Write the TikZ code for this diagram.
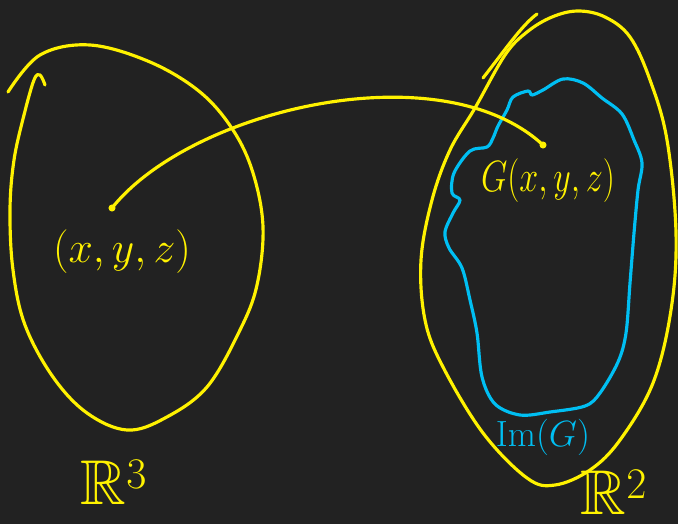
\documentclass[tikz,border=0pt]{standalone}
\usepackage{amssymb}
\definecolor{bg}{HTML}{222222}
\definecolor{hy}{HTML}{FFF200}
\definecolor{hb}{HTML}{00BFF3}
\tikzset{
  ink/.style={line width=1.8pt, line cap=round, line join=round},
  yel/.style={ink, draw=hy},
  blu/.style={ink, draw=hb},
  lbl/.style={text=hy, inner sep=0pt},
  dotmark/.style={fill=hy, circle, inner sep=0pt, minimum size=4pt}
}
\begin{document}
\begin{tikzpicture}[x=0.02cm,y=-0.02cm]
\fill[bg] (0,0) rectangle (678,524);
\useasboundingbox (0,0) rectangle (678,524);

% left set R^3
\draw[yel] plot[smooth, tension=0.6] coordinates {(45,85) (40,75) (34,80) (24,115) (14,160) (10,210) (13,270) (25,325) (53,377) (87,413) (127,430) (165,418) (207,387) (240,330) (257,285) (263,227) (253,173) (233,130) (200,92) (150,62) (90,45) (40,55) (8,92)};

% right set R^2
\draw[yel] plot[smooth cycle, tension=0.6] coordinates {(475,108) (450,150) (432,200) (421,260) (425,320) (443,367) (483,433) (527,478) (555,485) (590,470) (620,440) (653,383) (671,310) (676,233) (667,140) (650,80) (630,37) (605,17) (578,11) (552,17) (527,32) (505,55)};
\draw[yel] (483,78) .. controls (505,50) and (522,25) .. (537,14);

% image of G
\draw[blu] plot[smooth cycle, tension=0.55] coordinates {(513,97) (528,91) (532,95) (543,90) (563,79) (583,83) (602,98) (622,114) (634,140) (642,163) (638,190) (634,233) (630,283) (626,333) (618,362) (600,393) (585,406) (550,412) (520,415) (495,404) (482,377) (477,333) (470,300) (462,268) (449,248) (445,232) (453,213) (460,200) (452,193) (454,173) (470,151) (487,147) (493,138) (498,126) (507,110)};

% labels
\node[lbl] (p) at (122,252) {\fontsize{25}{28}\selectfont$(x,y,z)$};
\node[lbl] (g) at (548,181) {\scalebox{0.78}[1]{\fontsize{27}{30}\selectfont$G(x,y,z)$}};
\node[lbl, text=hb] (im) at (543,437) {\fontsize{20}{22}\selectfont$\mathrm{Im}(G)$};
\node[lbl] (r3) at (114,482) {\fontsize{36}{40}\selectfont$\mathbb{R}^3$};
\node[lbl] (r2) at (614,492) {\fontsize{36}{40}\selectfont$\mathbb{R}^2$};

% mapping arrow
\coordinate (src) at (112,208);
\coordinate (dst) at (543,145);
\draw[yel] (src) .. controls (190,110) and (440,50) .. (dst);
\node[dotmark] (s) at (src) {};
\node[dotmark] (d) at (dst) {};
\end{tikzpicture}
\end{document}
